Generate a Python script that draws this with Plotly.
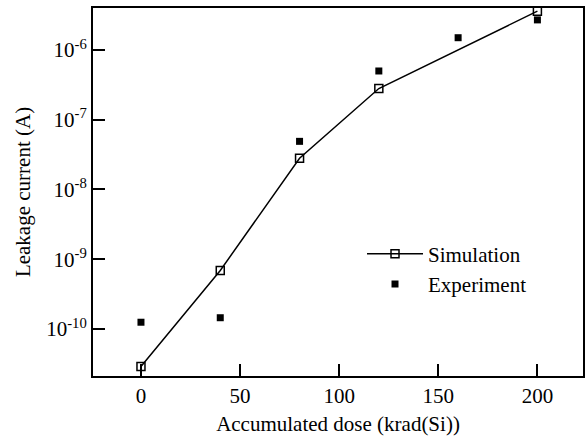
import plotly.graph_objects as go

sim_dose = [0, 40, 80, 120, 200]
sim_current = [2.9e-11, 6.9e-10, 2.8e-8, 2.8e-7, 3.6e-6]
exp_dose = [0, 40, 80, 120, 160, 200]
exp_current = [1.25e-10, 1.45e-10, 4.9e-8, 5.0e-7, 1.5e-6, 2.7e-6]
y_tickvals = [1e-10, 1e-9, 1e-8, 1e-7, 1e-6]
y_ticktext = ["10<sup>-10</sup>", "10<sup>-9</sup>", "10<sup>-8</sup>", "10<sup>-7</sup>", "10<sup>-6</sup>"]
x_tickvals = [0, 50, 100, 150, 200]

font = "Liberation Serif"
fig = go.Figure()
fig.add_trace(go.Scatter(x=sim_dose, y=sim_current, mode="lines+markers", name="Simulation",
                         line=dict(color="black", width=1.5),
                         marker=dict(symbol="square-open", size=8, color="black", line=dict(width=1.5))))
fig.add_trace(go.Scatter(x=exp_dose, y=exp_current, mode="markers", name="Experiment",
                         marker=dict(symbol="square", size=7, color="black")))

fig.update_layout(
    width=585, height=439,
    margin=dict(l=93, r=2, t=8, b=63),
    paper_bgcolor="white", plot_bgcolor="white",
    font=dict(family=font, size=21, color="black"),
    showlegend=True,
    legend=dict(x=0.549, y=0.387, xanchor="left", yanchor="top", bgcolor="rgba(0,0,0,0)",
                font=dict(family=font, size=21), itemwidth=56, tracegroupgap=0),
    xaxis=dict(range=[-24.2, 223], tickvals=x_tickvals, ticks="inside", ticklen=12, tickwidth=1.5,
               tickcolor="black", showline=True, linecolor="black", linewidth=2, mirror=True,
               showgrid=False, zeroline=False, automargin=False,
               title=dict(text="Accumulated dose (krad(Si))", font=dict(family=font, size=21), standoff=9),
               tickfont=dict(family=font, size=21)),
    yaxis=dict(type="log", range=[-10.674, -5.398], tickvals=y_tickvals, ticktext=y_ticktext,
               ticks="inside", ticklen=12, tickwidth=1.5, tickcolor="black",
               showline=True, linecolor="black", linewidth=2, mirror=True,
               showgrid=False, zeroline=False, automargin=False,
               title=dict(text="Leakage current (A)", font=dict(family=font, size=21), standoff=10),
               tickfont=dict(family=font, size=21)),
)
fig.write_html("out.html", config={"displayModeBar": False},
               post_script="document.body.style.margin='0';")
